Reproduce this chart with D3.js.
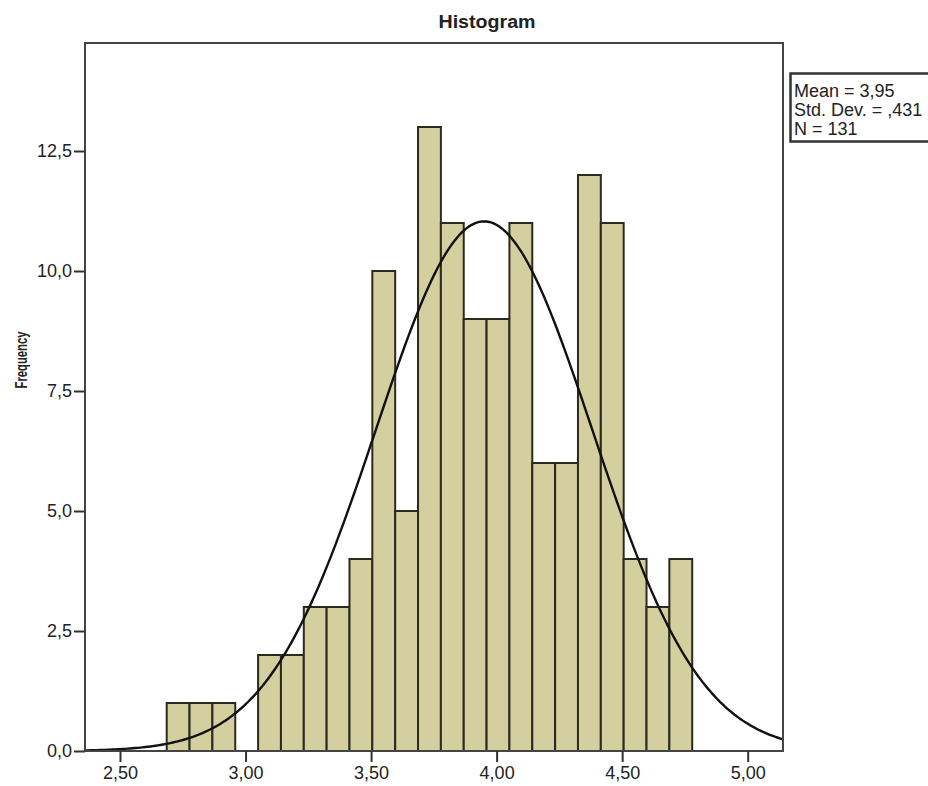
<!DOCTYPE html>
<head>
  <meta charset="utf-8">
  <script src="https://cdn.jsdelivr.net/npm/d3@7"></script>
  <style>
    body { margin:0; background:#fff; }
    text { font-family: "Liberation Sans", Arial, sans-serif; fill:#222; }
  </style>
</head>
<body>
  <script>
    // bin counts (one gap bin at index 3)
    var counts = [1, 1, 1, 0, 2, 2, 3, 3, 4, 10, 5, 13, 11, 9, 9, 11, 6, 6, 12, 11, 4, 3, 4];
    var binStart = 2.686,
        binWidth = 0.091;
    var xTicks = [2.5, 3.0, 3.5, 4.0, 4.5, 5.0];
    var yTicks = [0, 2.5, 5, 7.5, 10, 12.5];
    var stats = { mean: 3.95, sd: 0.431, n: 131 };
    var legendLines = ["Mean = 3,95", "Std. Dev. = ,431", "N = 131"];

    var width = 928, height = 786;
    var pL = 85, pR = 783, pT = 43, pB = 751;

    var svg = d3.select("body").append("svg")
      .attr("width", width)
      .attr("height", height);

    var x = d3.scaleLinear().domain([2.3606, 5.1406]).range([pL, pR]);
    var y = d3.scaleLinear().domain([0, 14.75]).range([pB, pT]);

    var locale = d3.formatLocale({ decimal: ",", thousands: ".", grouping: [3], currency: ["", ""] });
    var fx = locale.format(".2f"), fy = locale.format(".1f");

    // bars
    svg.append("g").selectAll("rect")
      .data(counts.map(function(c, i) { return { x0: binStart + i * binWidth, c: c }; })
                  .filter(function(d) { return d.c > 0; }))
      .enter().append("rect")
      .attr("x", function(d) { return x(d.x0); })
      .attr("width", function(d) { return x(d.x0 + binWidth) - x(d.x0); })
      .attr("y", function(d) { return y(d.c); })
      .attr("height", function(d) { return y(0) - y(d.c); })
      .style("fill", "#d4cf9e")
      .style("stroke", "#2b2a1c")
      .style("stroke-width", 2);

    // fitted normal curve from the legend's statistics
    var xs = d3.range(x.domain()[0], x.domain()[1] + 0.001, 0.01);
    var dens = function(v) {
      var z = (v - stats.mean) / stats.sd;
      return stats.n * binWidth * Math.exp(-0.5 * z * z) / (stats.sd * Math.sqrt(2 * Math.PI));
    };
    svg.append("path")
      .datum(xs)
      .attr("d", d3.line().x(function(d) { return x(d); }).y(function(d) { return y(dens(d)); }))
      .style("fill", "none")
      .style("stroke", "#111")
      .style("stroke-width", 2.4);

    // frame
    svg.append("rect")
      .attr("x", pL).attr("y", pT)
      .attr("width", pR - pL).attr("height", pB - pT)
      .style("fill", "none")
      .style("stroke", "#444")
      .style("stroke-width", 2);

    // axes
    var gx = svg.append("g").attr("transform", "translate(0," + pB + ")")
      .call(d3.axisBottom(x).tickValues(xTicks).tickFormat(fx).tickSize(11).tickPadding(4));
    var gy = svg.append("g").attr("transform", "translate(" + pL + ",0)")
      .call(d3.axisLeft(y).tickValues(yTicks).tickFormat(fy).tickSize(11).tickPadding(2));
    [gx, gy].forEach(function(g) {
      g.select(".domain").remove();
      g.selectAll("line").style("stroke", "#333").style("stroke-width", 2);
      g.selectAll("text").style("font-size", "18px").style("fill", "#222")
        .style("font-family", "'Liberation Sans', Arial, sans-serif");
    });

    // title and axis label
    svg.append("text")
      .attr("x", 487).attr("y", 28)
      .attr("text-anchor", "middle")
      .attr("textLength", 97)
      .attr("lengthAdjust", "spacingAndGlyphs")
      .style("font-weight", "bold").style("font-size", "18px")
      .text("Histogram");

    svg.append("text")
      .attr("transform", "translate(27,360) rotate(-90)")
      .attr("text-anchor", "middle")
      .attr("textLength", 57)
      .attr("lengthAdjust", "spacingAndGlyphs")
      .style("font-weight", "bold").style("font-size", "17px")
      .text("Frequency");

    // legend box
    svg.append("rect")
      .attr("x", 790.5).attr("y", 73.5)
      .attr("width", 150).attr("height", 68)
      .style("fill", "#fff")
      .style("stroke", "#333")
      .style("stroke-width", 2.5);

    svg.append("g").selectAll("text")
      .data(legendLines)
      .enter().append("text")
      .attr("x", 794)
      .attr("y", function(d, i) { return 97 + i * 19; })
      .style("font-size", "18px")
      .text(function(d) { return d; });
  </script>
</body>
